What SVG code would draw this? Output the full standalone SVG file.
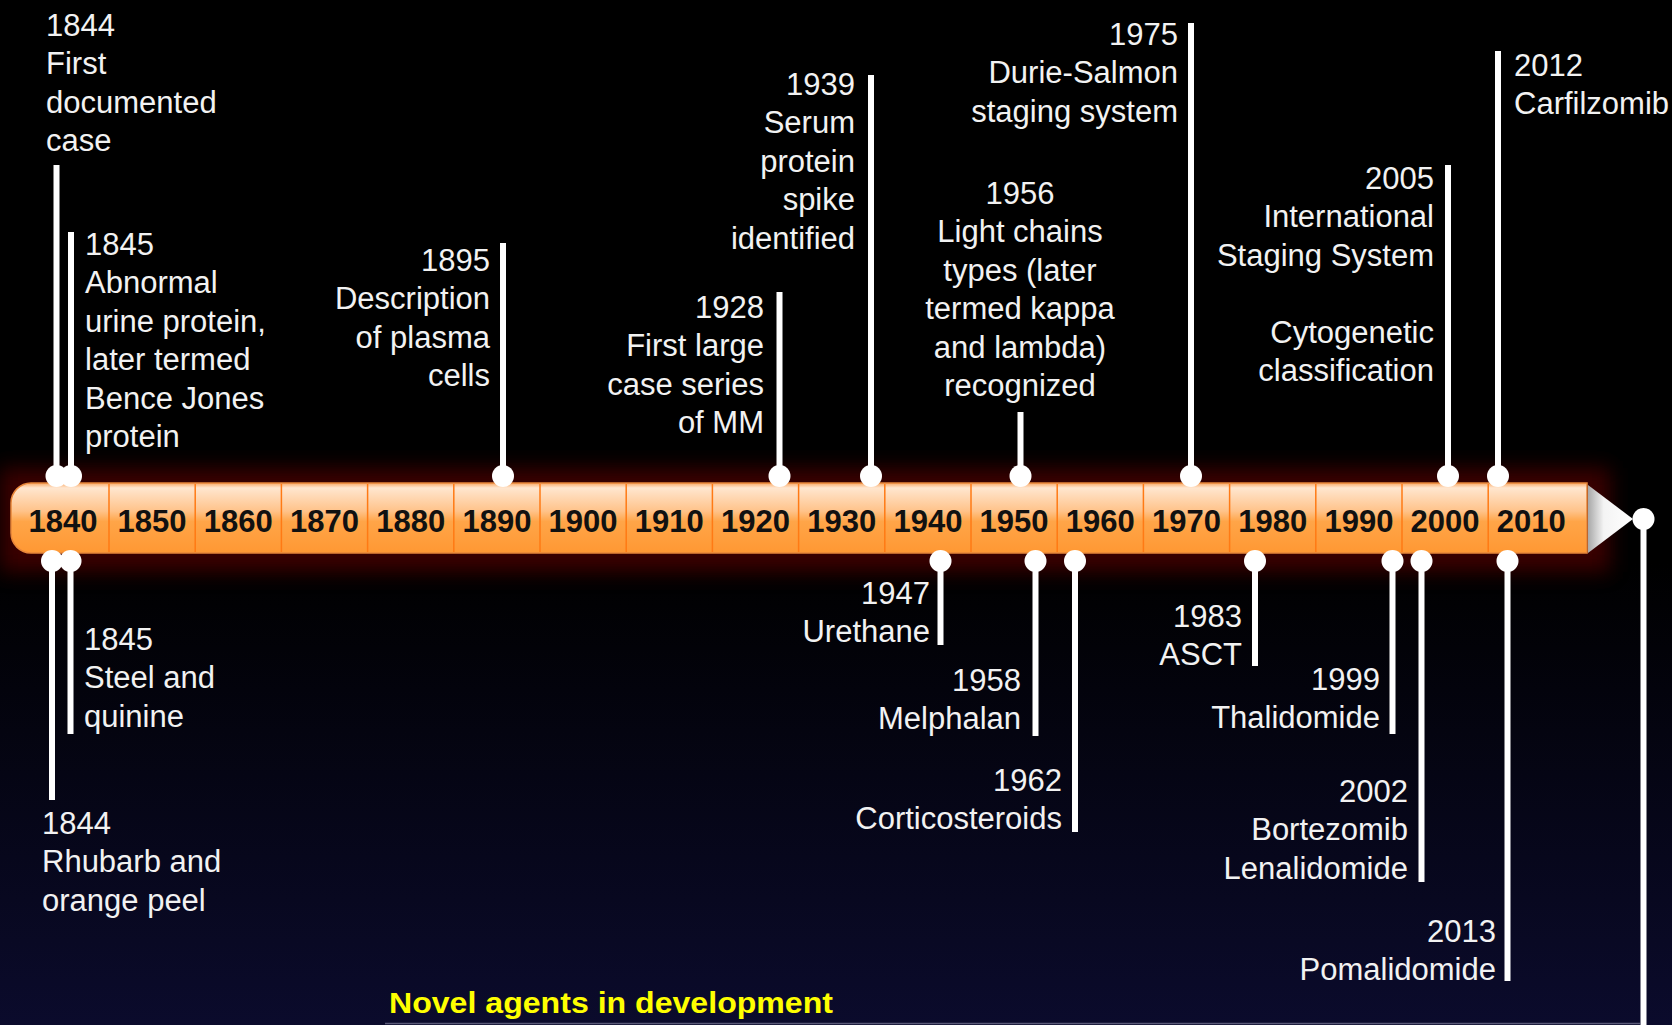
<svg xmlns="http://www.w3.org/2000/svg" width="1672" height="1025" viewBox="0 0 1672 1025">
<defs>
 <linearGradient id="bg" x1="0" y1="0" x2="0" y2="1">
  <stop offset="0" stop-color="#000"/>
  <stop offset="0.55" stop-color="#000"/>
  <stop offset="1" stop-color="#0b0b2c"/>
 </linearGradient>
 <linearGradient id="barg" x1="0" y1="0" x2="0" y2="1">
  <stop offset="0" stop-color="#f9a966"/>
  <stop offset="0.07" stop-color="#ffe6cf"/>
  <stop offset="0.4" stop-color="#ffc38a"/>
  <stop offset="0.55" stop-color="#ffa548"/>
  <stop offset="1" stop-color="#ff9833"/>
 </linearGradient>
 <linearGradient id="tri" x1="0" y1="0" x2="1" y2="0">
  <stop offset="0" stop-color="#a8a8a8"/>
  <stop offset="0.35" stop-color="#f4f4f4"/>
  <stop offset="1" stop-color="#ffffff"/>
 </linearGradient>
 <filter id="glow" x="-10%" y="-100%" width="120%" height="300%"><feGaussianBlur stdDeviation="10"/></filter>
</defs>
<style>
 .t{font-family:"Liberation Sans",Arial,sans-serif;font-size:31px;fill:#f2f2f2}
 .e{text-anchor:end}
 .m{text-anchor:middle}
 .yr{font-family:"Liberation Sans",Arial,sans-serif;font-size:31px;font-weight:bold;fill:#111;text-anchor:middle}
 .stem{stroke:#fff;stroke-width:6;fill:none}
 .dot{fill:#fff}
 .div{stroke:#ff7a14;stroke-width:1.5}
</style>
<rect x="0" y="0" width="1672" height="1025" fill="url(#bg)"/>
<rect x="0" y="468" width="1610" height="104" fill="#4a0000" opacity="0.8" filter="url(#glow)"/>

<g id="timeline">
 <path d="M31,483 H1587 V553 H31 A20,20 0 0 1 11,533 V503 A20,20 0 0 1 31,483 Z" fill="url(#barg)" stroke="#e8863a" stroke-width="1.5"/>
 <g class="div">
  <line x1="109" y1="484" x2="109" y2="552"/><line x1="195.2" y1="484" x2="195.2" y2="552"/>
  <line x1="281.4" y1="484" x2="281.4" y2="552"/><line x1="367.6" y1="484" x2="367.6" y2="552"/>
  <line x1="453.8" y1="484" x2="453.8" y2="552"/><line x1="540" y1="484" x2="540" y2="552"/>
  <line x1="626.2" y1="484" x2="626.2" y2="552"/><line x1="712.4" y1="484" x2="712.4" y2="552"/>
  <line x1="798.6" y1="484" x2="798.6" y2="552"/><line x1="884.8" y1="484" x2="884.8" y2="552"/>
  <line x1="971" y1="484" x2="971" y2="552"/><line x1="1057.2" y1="484" x2="1057.2" y2="552"/>
  <line x1="1143.4" y1="484" x2="1143.4" y2="552"/><line x1="1229.6" y1="484" x2="1229.6" y2="552"/>
  <line x1="1315.8" y1="484" x2="1315.8" y2="552"/><line x1="1402" y1="484" x2="1402" y2="552"/>
  <line x1="1488.2" y1="484" x2="1488.2" y2="552"/>
 </g>
 <path d="M1588,485 L1633,519 L1588,553 Z" fill="url(#tri)"/>
 <g class="yr">
  <text x="63" y="531.5">1840</text><text x="152.1" y="531.5">1850</text><text x="238.3" y="531.5">1860</text>
  <text x="324.5" y="531.5">1870</text><text x="410.7" y="531.5">1880</text><text x="496.9" y="531.5">1890</text>
  <text x="583.1" y="531.5">1900</text><text x="669.3" y="531.5">1910</text><text x="755.5" y="531.5">1920</text>
  <text x="841.7" y="531.5">1930</text><text x="927.9" y="531.5">1940</text><text x="1014.1" y="531.5">1950</text>
  <text x="1100.3" y="531.5">1960</text><text x="1186.5" y="531.5">1970</text><text x="1272.7" y="531.5">1980</text>
  <text x="1358.9" y="531.5">1990</text><text x="1445.1" y="531.5">2000</text><text x="1531.3" y="531.5">2010</text>
 </g>
</g>

<g id="connectors">
 <g class="stem">
  <line x1="56.5" y1="165" x2="56.5" y2="476"/>
  <line x1="71" y1="232" x2="71" y2="476"/>
  <line x1="503" y1="243" x2="503" y2="476"/>
  <line x1="779.5" y1="292" x2="779.5" y2="476"/>
  <line x1="871" y1="75" x2="871" y2="476"/>
  <line x1="1020.5" y1="412" x2="1020.5" y2="476"/>
  <line x1="1191" y1="23" x2="1191" y2="476"/>
  <line x1="1448" y1="165" x2="1448" y2="476"/>
  <line x1="1498" y1="51" x2="1498" y2="476"/>
  <line x1="52" y1="561" x2="52" y2="800"/>
  <line x1="70.5" y1="561" x2="70.5" y2="734"/>
  <line x1="940.5" y1="561" x2="940.5" y2="645"/>
  <line x1="1035.5" y1="561" x2="1035.5" y2="736"/>
  <line x1="1075" y1="561" x2="1075" y2="832"/>
  <line x1="1255" y1="561" x2="1255" y2="666"/>
  <line x1="1392.5" y1="561" x2="1392.5" y2="734"/>
  <line x1="1421.5" y1="561" x2="1421.5" y2="882"/>
  <line x1="1507.5" y1="561" x2="1507.5" y2="981"/>
  <line x1="1643.5" y1="519" x2="1643.5" y2="1025"/>
 </g>
 <g class="dot">
  <circle cx="56.5" cy="476" r="11"/><circle cx="71" cy="476" r="11"/>
  <circle cx="503" cy="476" r="11"/><circle cx="779.5" cy="476" r="11"/>
  <circle cx="871" cy="476" r="11"/><circle cx="1020.5" cy="476" r="11"/>
  <circle cx="1191" cy="476" r="11"/><circle cx="1448" cy="476" r="11"/>
  <circle cx="1498" cy="476" r="11"/>
  <circle cx="52" cy="561" r="11"/><circle cx="70.5" cy="561" r="11"/>
  <circle cx="940.5" cy="561" r="11"/><circle cx="1035.5" cy="561" r="11"/>
  <circle cx="1075" cy="561" r="11"/><circle cx="1255" cy="561" r="11"/>
  <circle cx="1392.5" cy="561" r="11"/><circle cx="1421.5" cy="561" r="11"/>
  <circle cx="1507.5" cy="561" r="11"/><circle cx="1643.5" cy="519" r="11"/>
 </g>
</g>

<g id="ev1844a" class="t"><text x="46" y="36">1844</text><text x="46" y="74.4">First</text><text x="46" y="112.8">documented</text><text x="46" y="151.2">case</text></g>
<g id="ev1845a" class="t"><text x="85" y="255">1845</text><text x="85" y="293.4">Abnormal</text><text x="85" y="331.8">urine protein,</text><text x="85" y="370.2">later termed</text><text x="85" y="408.6">Bence Jones</text><text x="85" y="447">protein</text></g>
<g id="ev1895" class="t e"><text x="490" y="271">1895</text><text x="490" y="309.4">Description</text><text x="490" y="347.8">of plasma</text><text x="490" y="386.2">cells</text></g>
<g id="ev1928" class="t e"><text x="764" y="318">1928</text><text x="764" y="356.4">First large</text><text x="764" y="394.8">case series</text><text x="764" y="433.2">of MM</text></g>
<g id="ev1939" class="t e"><text x="855" y="95">1939</text><text x="855" y="133.4">Serum</text><text x="855" y="171.8">protein</text><text x="855" y="210.2">spike</text><text x="855" y="248.6">identified</text></g>
<g id="ev1956" class="t m"><text x="1020" y="204">1956</text><text x="1020" y="242.4">Light chains</text><text x="1020" y="280.8">types (later</text><text x="1020" y="319.2">termed kappa</text><text x="1020" y="357.6">and lambda)</text><text x="1020" y="396">recognized</text></g>
<g id="ev1975" class="t e"><text x="1178" y="45">1975</text><text x="1178" y="83.4">Durie-Salmon</text><text x="1178" y="121.8">staging system</text></g>
<g id="ev2005" class="t e"><text x="1434" y="189">2005</text><text x="1434" y="227.4">International</text><text x="1434" y="265.8">Staging System</text><text x="1434" y="342.6">Cytogenetic</text><text x="1434" y="381">classification</text></g>
<g id="ev2012" class="t"><text x="1514" y="76">2012</text><text x="1514" y="114.4">Carfilzomib</text></g>

<g id="ev1844b" class="t"><text x="42" y="834">1844</text><text x="42" y="872.4">Rhubarb and</text><text x="42" y="910.8">orange peel</text></g>
<g id="ev1845b" class="t"><text x="84" y="650">1845</text><text x="84" y="688.4">Steel and</text><text x="84" y="726.8">quinine</text></g>
<g id="ev1947" class="t e"><text x="930" y="604">1947</text><text x="930" y="642.4">Urethane</text></g>
<g id="ev1958" class="t e"><text x="1021" y="691">1958</text><text x="1021" y="729.4">Melphalan</text></g>
<g id="ev1962" class="t e"><text x="1062" y="791">1962</text><text x="1062" y="829.4">Corticosteroids</text></g>
<g id="ev1983" class="t e"><text x="1242" y="627">1983</text><text x="1242" y="665.4">ASCT</text></g>
<g id="ev1999" class="t e"><text x="1380" y="690">1999</text><text x="1380" y="728.4">Thalidomide</text></g>
<g id="ev2002" class="t e"><text x="1408" y="802">2002</text><text x="1408" y="840.4">Bortezomib</text><text x="1408" y="878.8">Lenalidomide</text></g>
<g id="ev2013" class="t e"><text x="1496" y="942">2013</text><text x="1496" y="980.4">Pomalidomide</text></g>

<g id="novel">
 <text x="389" y="1013" font-family="Liberation Sans, Arial, sans-serif" font-size="30" font-weight="bold" fill="#ffff00" textLength="444" lengthAdjust="spacingAndGlyphs">Novel agents in development</text>
 <line x1="385" y1="1023.5" x2="1640" y2="1023.5" stroke="#5a5a78" stroke-width="1.5"/>
</g>
</svg>
